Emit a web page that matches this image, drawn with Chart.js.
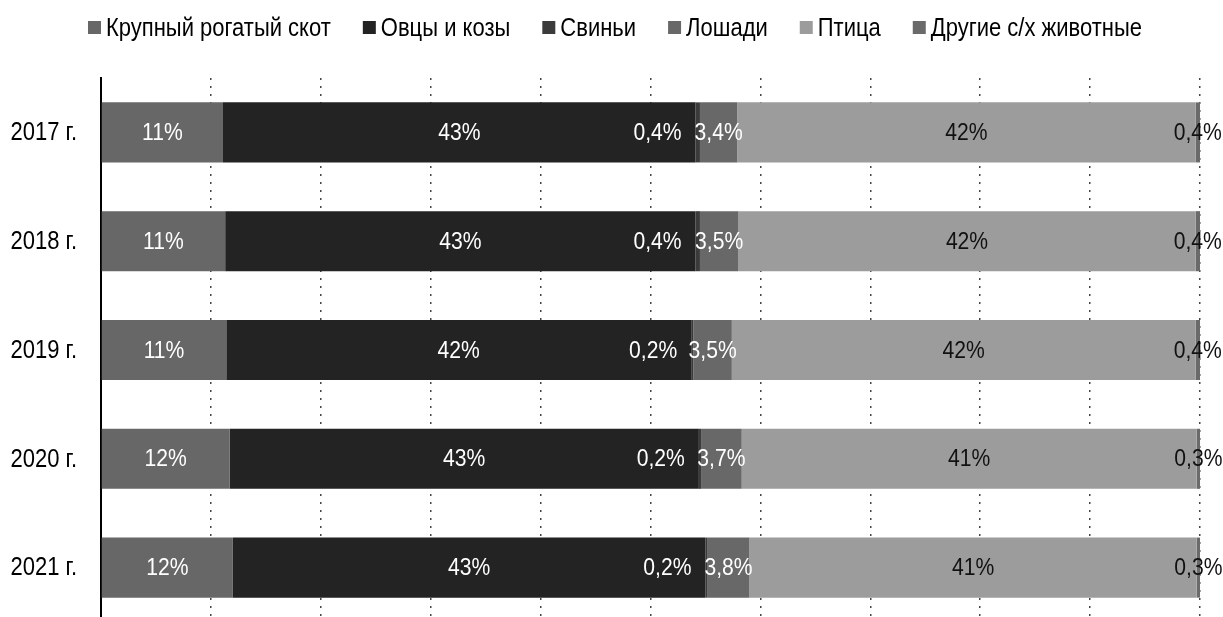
<!DOCTYPE html>
<html>
<head>
<meta charset="utf-8">
<script src="https://cdn.jsdelivr.net/npm/chart.js@4.4.0/dist/chart.umd.min.js"></script>
<style>
    html, body { margin: 0; padding: 0; background: #fff; overflow: hidden; }
    #wrap { position: relative; width: 1223px; height: 622px; }
</style>
</head>
<body>
<div id="wrap"><canvas id="chart"></canvas></div>
<script>
// Structure of livestock, % of total
const years = ['2017 г.', '2018 г.', '2019 г.', '2020 г.', '2021 г.'];
const seriesNames = ['Крупный рогатый скот', 'Овцы и козы', 'Свиньи', 'Лошади', 'Птица', 'Другие с/х животные'];
const cattle = [11.1, 11.3, 11.4, 11.7, 12.0];
const sheepGoats = [43.0, 42.8, 42.3, 42.7, 43.0];
const pigs = [0.4, 0.4, 0.2, 0.2, 0.2];
const horses = [3.4, 3.5, 3.5, 3.7, 3.8];
const poultry = [41.7, 41.6, 42.2, 41.4, 40.7];
const other = [0.4, 0.4, 0.4, 0.3, 0.3];

const colors = ['#676767', '#232323', '#3b3b3b', '#686868', '#9c9c9c', '#6a6a6a'];
const labelColors = ['#fff', '#fff', '#fff', '#fff', '#111', '#111'];

// no Arial Narrow here, so squeeze Liberation Sans horizontally
const FONT = '"Liberation Sans", Arial, sans-serif';
const NARROW = 0.88;

function formatPct(v) {
    if (v >= 10) return Math.round(v) + '%';
    return v.toFixed(1).replace('.', ',') + '%';
}

function narrowText(ctx, text, x, y, align, size, color) {
    ctx.save();
    ctx.font = size + 'px ' + FONT;
    ctx.fillStyle = color;
    ctx.textAlign = align;
    ctx.textBaseline = 'middle';
    ctx.translate(x, y);
    ctx.scale(NARROW, 1);
    ctx.fillText(text, 0, 0);
    ctx.restore();
}

function narrowWidth(ctx, text, size) {
    ctx.save();
    ctx.font = size + 'px ' + FONT;
    const w = ctx.measureText(text).width * NARROW;
    ctx.restore();
    return w;
}

// legend row on top
const topLegend = {
    id: 'topLegend',
    afterDraw(chart) {
        const ctx = chart.ctx;
        const size = 25, box = 13, gap = 5, spacing = 32, cy = 28;
        const items = chart.data.datasets.map(ds => ({
            text: ds.label, color: ds.backgroundColor, w: narrowWidth(ctx, ds.label, size)
        }));
        let total = 0;
        items.forEach((it, i) => { total += box + gap + it.w + (i ? spacing : 0); });
        let x = 615 - total / 2;
        items.forEach(it => {
            ctx.fillStyle = it.color;
            ctx.fillRect(x, cy - 7, box, box);
            narrowText(ctx, it.text, x + box + gap, cy + 1, 'left', size, '#000');
            x += box + gap + it.w + spacing;
        });
    }
};

// category labels left of the axis
const yearLabels = {
    id: 'yearLabels',
    afterDraw(chart) {
        const y = chart.scales.y;
        chart.data.labels.forEach((lab, i) => {
            narrowText(chart.ctx, lab, y.left - 24, y.getPixelForValue(i) + 1, 'right', 25, '#000');
        });
    }
};

// value labels inside the bars
const barLabels = {
    id: 'barLabels',
    afterDatasetsDraw(chart) {
        const ctx = chart.ctx;
        chart.data.datasets.forEach((ds, i) => {
            const meta = chart.getDatasetMeta(i);
            meta.data.forEach((bar, j) => {
                const text = formatPct(ds.data[j]);
                if (i === 2) {
                    // pigs: label sits to the left of the thin segment
                    narrowText(ctx, text, Math.min(bar.x, bar.base) - 14, bar.y + 1, 'right', 24, labelColors[i]);
                } else {
                    narrowText(ctx, text, (bar.x + bar.base) / 2, bar.y + 1, 'center', 24, labelColors[i]);
                }
            });
        });
    }
};

const allSeries = [cattle, sheepGoats, pigs, horses, poultry, other];

new Chart(document.getElementById('chart'), {
    type: 'bar',
    data: {
        labels: years,
        datasets: allSeries.map((d, i) => ({
            label: seriesNames[i],
            data: d,
            backgroundColor: colors[i],
            borderWidth: 0,
            barPercentage: 0.552,
            categoryPercentage: 1
        }))
    },
    options: {
        indexAxis: 'y',
        responsive: true,
        maintainAspectRatio: false,
        animation: false,
        layout: { padding: { left: 101, right: 23, top: 78, bottom: 0 } },
        plugins: {
            legend: { display: false },
            tooltip: { enabled: false }
        },
        scales: {
            x: {
                stacked: true,
                min: 0,
                max: 100,
                ticks: { display: false, stepSize: 10 },
                grid: { color: '#444', lineWidth: 1.5, drawTicks: false },
                border: { display: false, dash: [2, 6] }
            },
            y: {
                stacked: true,
                ticks: { display: false },
                grid: { display: false, drawTicks: false },
                border: { display: true, color: '#000', width: 2 }
            }
        }
    },
    plugins: [barLabels, yearLabels, topLegend]
});
</script>
</body>
</html>
